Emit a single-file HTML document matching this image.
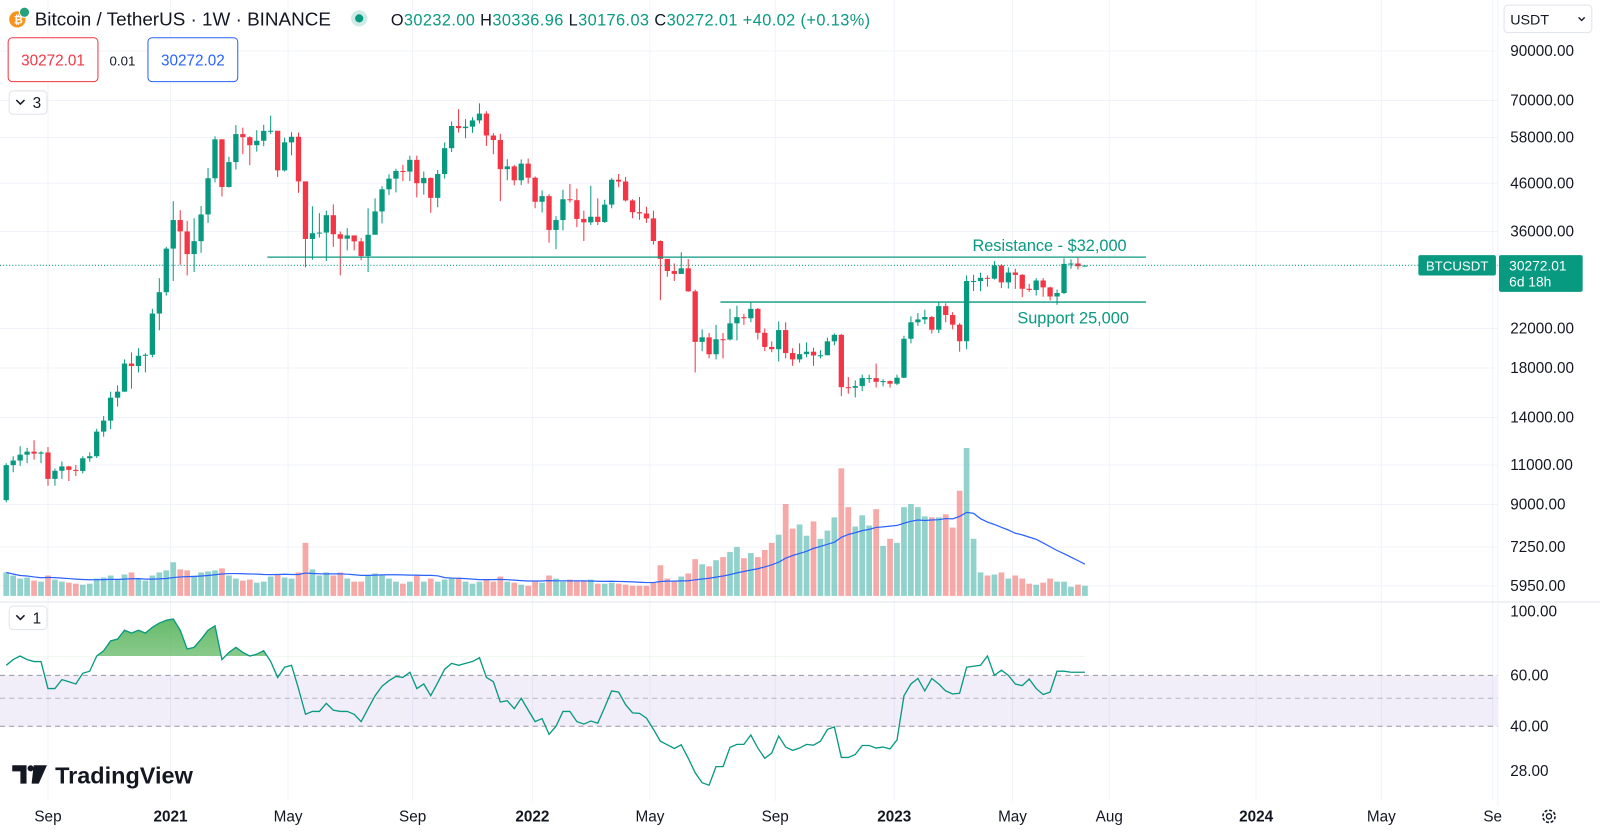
<!DOCTYPE html>
<html><head><meta charset="utf-8">
<style>
body{margin:0;width:1600px;height:832px;overflow:hidden;background:#fff;font-family:"Liberation Sans",sans-serif;}
svg text{font-family:"Liberation Sans",sans-serif;}
</style></head>
<body>
<svg id="chart" width="1600" height="832" viewBox="0 0 1568 815.36" xmlns="http://www.w3.org/2000/svg">
<defs>
<linearGradient id="obFill" x1="0" y1="0" x2="0" y2="1">
<stop offset="0" stop-color="#4caf50" stop-opacity="0.85"/>
<stop offset="1" stop-color="#4caf50" stop-opacity="0"/>
</linearGradient>
<clipPath id="obClip"><rect x="0" y="0" width="1468" height="643"/></clipPath>
<clipPath id="plotClip"><rect x="0" y="0" width="1468" height="832"/></clipPath>
</defs>
<g id="grid"></g>
<rect x="0" y="662" width="1468" height="50" fill="#7e57c2" fill-opacity="0.1"/>
<g id="rsiLevels"></g>
<g id="volume" clip-path="url(#plotClip)"></g>
<path id="volMA" fill="none" stroke="#2962ff" stroke-width="1.2"/>
<g id="candles"></g>
<line x1="262" y1="252" x2="1123" y2="252" stroke="#089981" stroke-width="1.3"/>
<text x="953" y="246" font-size="16" fill="#089981">Resistance - $32,000</text>
<line x1="706" y1="296" x2="1123" y2="296" stroke="#089981" stroke-width="1.3"/>
<text x="997" y="317" font-size="16" fill="#089981">Support 25,000</text>
<line x1="0" y1="260" x2="1468" y2="260" stroke="#089981" stroke-width="1" stroke-dasharray="1 2"/>
<path id="rsiFill" fill="url(#obFill)" clip-path="url(#obClip)"/>
<path id="rsiLine" fill="none" stroke="#089981" stroke-width="1.3"/>
<line x1="0" y1="590" x2="1600" y2="590" stroke="#e0e3eb"/>
<line x1="1468" y1="0" x2="1468" y2="790" stroke="#f0f3fa"/>
<g id="priceAxis"></g>
<g id="rsiAxis"></g>
<g id="timeAxis"></g>
<g>
<circle cx="17" cy="19" r="8" fill="#f7931a"/>
<text x="13.5" y="23" font-size="11" fill="#fff" font-weight="bold">₿</text>
<circle cx="24" cy="12" r="5" fill="#26a17b" stroke="#fff"/>
<text x="34" y="25" font-size="18.5" fill="#131722">Bitcoin / TetherUS · 1W · BINANCE</text>
<circle cx="352" cy="18" r="8" fill="#089981" fill-opacity="0.2"/>
<circle cx="352" cy="18" r="4" fill="#089981"/>
<text x="383" y="25" font-size="16" letter-spacing="0.4" fill="#089981"><tspan fill="#131722">O</tspan>30232.00 <tspan fill="#131722">H</tspan>30336.96 <tspan fill="#131722">L</tspan>30176.03 <tspan fill="#131722">C</tspan>30272.01 +40.02 (+0.13%)</text>
</g>
<g>
<rect x="8" y="37" width="88" height="43" rx="4" fill="#fff" stroke="#f23645"/>
<text x="52" y="64" font-size="15" fill="#f23645" text-anchor="middle">30272.01</text>
</g>
<text x="120" y="64" font-size="13" fill="#131722" text-anchor="middle">0.01</text>
<g>
<rect x="145" y="37" width="88" height="43" rx="4" fill="#fff" stroke="#2962ff"/>
<text x="189" y="64" font-size="15" fill="#2962ff" text-anchor="middle">30272.02</text>
</g>
<g>
<rect x="9" y="89" width="37" height="23" rx="4" fill="#fff" stroke="#e0e3eb"/>
<path d="M16 98 l4 4 l4 -4" fill="none" stroke="#131722" stroke-width="1.5"/>
<text x="32" y="106" font-size="15" fill="#131722">3</text>
</g>
<g>
<rect x="9" y="594" width="37" height="23" rx="4" fill="#fff" stroke="#e0e3eb"/>
<path d="M16 603 l4 4 l4 -4" fill="none" stroke="#131722" stroke-width="1.5"/>
<text x="32" y="611" font-size="15" fill="#131722">1</text>
</g>
<g>
<path d="M12 750 h14 v18 h-6 v-12 h-8 z M33 750 h13 l-8 18 h-7 z" fill="#131722"/>
<circle cx="30" cy="753" r="3" fill="#131722"/>
<text x="54" y="768" font-size="23" font-weight="bold" fill="#131722">TradingView</text>
</g>
<g>
<rect x="1474" y="5" width="86" height="27" rx="4" fill="#fff" stroke="#e0e3eb"/>
<text x="1480" y="24" font-size="14" fill="#131722">USDT</text>
<path d="M1547 17 l3 3 l3 -3" fill="none" stroke="#131722" stroke-width="1.3"/>
</g>
<g>
<rect x="1390" y="250" width="76" height="20" rx="2" fill="#089981"/>
<text x="1428" y="265" font-size="13" fill="#fff" text-anchor="middle">BTCUSDT</text>
<rect x="1469" y="250" width="82" height="36" rx="2" fill="#089981"/>
<text x="1479" y="265" font-size="13.5" fill="#fff">30272.01</text>
<text x="1479" y="281" font-size="13.5" fill="#fff">6d 18h</text>
</g>
<g>
<circle cx="1518" cy="800" r="6" fill="none" stroke="#131722" stroke-width="1.5" stroke-dasharray="3 1.7"/>
<circle cx="1518" cy="800" r="2.5" fill="none" stroke="#131722" stroke-width="1.3"/>
</g>
</svg>
<script>
const closes=[10990,11250,11590,11770,11650,11720,10250,10680,10920,10730,10670,11380,11500,13030,13780,15480,15960,18410,18180,19150,19250,23730,26450,33000,38150,36010,32100,34270,39250,47170,57480,45130,51200,59020,58100,55790,57060,60000,60040,49100,56600,58230,46430,34660,35680,35800,39100,35500,34700,35290,34240,31780,35400,39860,44600,47080,48950,48790,51790,46000,47250,42700,48200,54950,61500,60850,61300,63270,65500,58600,57270,49400,50100,46680,50800,47300,41860,43080,36280,38150,42400,42200,38370,37700,38800,37780,41260,46820,46400,42150,39700,39450,38470,34300,31330,29450,29020,29860,26570,20550,21030,19300,20830,20800,22580,23300,23170,24300,21520,20030,19800,21820,19420,18800,19310,19550,19180,19200,20610,21300,16330,16280,16420,17100,17100,16780,16840,16620,17130,20880,22700,23030,23320,21860,24640,23560,22430,20620,27990,27990,28450,28330,30300,27800,29230,28880,26910,26750,28070,27100,25880,26340,30530,30600,30170,30272];
const highs=[11100,11500,12100,12000,12470,11800,12050,10800,11200,10950,11000,11500,11730,13220,14100,15960,16480,18800,19480,19900,19400,24300,28400,33300,42000,40100,38000,38500,40950,49700,58350,57550,52640,61800,61000,58400,60200,61900,64850,57550,57960,59600,59500,45800,40900,39500,40000,41300,36000,36600,35100,34800,40500,42600,45300,48150,49500,50500,52900,52900,48800,47350,49200,56600,62950,67000,63700,64300,69000,66300,59300,59100,51950,50500,51900,52100,47600,44350,43500,38900,44500,45800,44750,40000,45400,42600,42300,47200,48200,47500,42400,42900,40800,40000,34400,31000,30600,32400,31300,26800,21900,21500,22400,21500,24300,24700,23700,25200,24400,22000,20600,22800,22700,19900,20400,20500,19950,19700,21000,21450,21400,17200,16900,17400,17400,18400,17000,16900,17400,21200,23400,23800,24200,23450,25250,25000,23900,22600,28800,28900,29200,28800,30970,30500,30000,29800,29000,27600,28400,28400,27200,26800,31400,31250,31500,30337];
const lows=[9100,10600,10950,11100,11300,11100,9900,9900,10250,10140,10400,10540,11180,11400,12700,13200,14800,15950,16200,17600,17600,19000,21800,26000,28000,30400,28800,29300,32300,37600,46200,43000,45000,49300,53300,50400,54000,55500,59000,47500,48800,53000,43800,30000,31200,34900,31000,33300,28800,32700,32700,31100,29300,36400,37500,43300,43900,46500,46500,42800,43400,39600,40700,47100,53900,59500,57800,59400,62300,55600,53300,42000,46700,45500,45550,45900,40500,39650,34000,32900,36200,41700,36800,34300,37200,37200,37600,40500,45100,41900,38500,38200,37600,33700,25400,28600,28000,29200,26500,17600,19600,18900,18800,18900,20700,20700,22400,22700,20800,19600,19500,18600,18900,18200,18500,19000,18200,18900,19200,20200,15600,15800,15500,16000,16700,16300,16400,16300,16500,17100,20400,22300,22500,21450,21500,22700,21900,19550,19800,26600,26600,27200,28200,27000,26950,26900,25800,26500,26000,25850,25350,24800,26200,29800,29700,30176];
const volumes=[230,200,170,180,150,140,200,160,140,130,120,110,120,170,180,200,160,210,230,170,150,200,230,250,330,260,250,200,230,240,250,270,200,170,150,160,130,140,190,210,180,170,230,520,260,200,230,200,230,170,140,140,200,220,210,170,140,120,140,200,140,170,140,160,170,170,140,120,140,160,140,190,140,130,110,100,140,130,200,170,140,160,140,150,160,120,120,130,120,110,100,100,100,130,300,170,140,190,220,360,310,290,350,380,430,480,370,420,380,450,520,600,900,660,700,590,730,560,640,770,1250,870,680,790,690,850,490,560,520,870,900,870,780,770,770,800,670,1030,1450,560,230,200,210,230,170,200,170,120,110,130,170,140,140,90,110,100];
const rsiValues=[65,68,70,68,67,67,54,54,58,57,56,61,62,70,73,79,80,86,84,86,84,88,91,93,94,86,74,75,80,86,89,68,72,75,72,70,71,73,67,59,64,65,54,44,45,45,48,45.5,45,45,44,41.5,46,51,55,57.5,59.5,59,61.5,54,56,51,56.5,63,66,65,66,67,69,59,57,48.5,49,46,50,45.5,41.5,42.5,37.5,40,45,45,41.5,40.7,41.7,41,46.5,53,52.5,47.5,44.5,44.3,42.7,39,35.5,34.5,33.5,34.5,31,27.6,25.5,25,29,29,33.8,34.6,34.6,37.3,33.6,31,32.3,37,33.9,33,33.6,34.6,34.4,35.5,39,39.8,31.2,31.2,31.9,34.3,34.3,33.6,33.9,33.4,35.9,51,56,58.5,53,58.5,56,53,51.7,52,64,64.5,65,70,60,62.5,60,56,55.3,58.3,54,51.5,52.5,62,62,61.5,61.5,61.5];
const priceTicks=[90000,70000,58000,46000,36000,22000,18000,14000,11000,9000,7250,5950];
const rsiTicks=[100,60,40,28];
const timeLabels=["Sep","2021","May","Sep","2022","May","Sep","2023","May","Aug","2024","May","Se"];
const timeLabelWeeks=[6,23.6,40.5,58.4,75.6,92.5,110.5,127.6,144.6,158.5,179.6,197.6,213.6];
const firstOpen=9200;

const NS="http://www.w3.org/2000/svg";
const X0=6.1, BARW=6.82;
function xAt(i){return X0+i*BARW;}
function yPrice(p){return 50+(Math.log(90000)-Math.log(p))*193;}
function yRsi(r){return 599+(Math.log(100)-Math.log(r))*123;}
const VOL_BASE=584, VOL_SCALE=0.1;
function yVol(v){return VOL_BASE-v*VOL_SCALE;}
function mk(tag,attrs,parent){const e=document.createElementNS(NS,tag);for(const k in attrs)e.setAttribute(k,attrs[k]);parent.appendChild(e);return e;}

const grid=document.getElementById('grid');
priceTicks.forEach(t=>{const l=mk('line',{x1:0,x2:1468,y1:yPrice(t),y2:yPrice(t),stroke:'#f0f3fa'},grid);

});
timeLabelWeeks.forEach(w=>{const l=mk('line',{x1:xAt(w),x2:xAt(w),y1:0,y2:785,stroke:'#f0f3fa'},grid);

});

const rl=document.getElementById('rsiLevels');
[60,50,40].forEach(v=>{const l=mk('line',{x1:0,x2:1468,y1:yRsi(v),y2:yRsi(v),stroke:v===50?'#b2b5be':'#9598a1','stroke-dasharray':'5 4'},rl);

});

const vg=document.getElementById('volume');
volumes.forEach((v,i)=>{const o=i?closes[i-1]:firstOpen;const up=closes[i]>=o;
const r=mk('rect',{x:xAt(i)-2.8,y:yVol(v),width:5.6,height:v*VOL_SCALE,fill:up?'#26a69a':'#ef5350','fill-opacity':0.5},vg);

});
let ma=[];for(let i=0;i<volumes.length;i++){const s=Math.max(0,i-19);let sum=0;for(let j=s;j<=i;j++)sum+=volumes[j];ma.push(sum/(i-s+1));}
document.getElementById('volMA').setAttribute('d',ma.map((m,i)=>(i?'L':'M')+xAt(i).toFixed(1)+' '+yVol(m).toFixed(1)).join(' '));

const cg=document.getElementById('candles');
closes.forEach((c,i)=>{const o=i?closes[i-1]:firstOpen;const up=c>=o;const col=up?'#089981':'#f23645';
const x=xAt(i);
const w=mk('line',{x1:x,x2:x,y1:yPrice(highs[i]),y2:yPrice(lows[i]),stroke:col,'stroke-width':1},cg);


const yt=yPrice(Math.max(o,c)),yb=yPrice(Math.min(o,c));
const b=mk('rect',{x:x-2.6,y:yt,width:5.2,height:Math.max(1,yb-yt),fill:col},cg);

});

const pts=rsiValues.map((r,i)=>[xAt(i),yRsi(r)]);
document.getElementById('rsiLine').setAttribute('d',pts.map((p,i)=>(i?'L':'M')+p[0].toFixed(1)+' '+p[1].toFixed(1)).join(' '));
const y70=yRsi(70);
document.getElementById('rsiFill').setAttribute('d','M'+pts[0][0]+' '+y70+' '+pts.map(p=>'L'+p[0].toFixed(1)+' '+p[1].toFixed(1)).join(' ')+' L'+pts[pts.length-1][0]+' '+y70+' Z');

const pa=document.getElementById('priceAxis');
priceTicks.forEach(t=>{const e=mk('text',{x:1480,y:yPrice(t)+5,'font-size':15,fill:'#131722'},pa);e.textContent=t.toFixed(2);

});
const ra=document.getElementById('rsiAxis');
rsiTicks.forEach(t=>{const e=mk('text',{x:1480,y:yRsi(t)+5,'font-size':15,fill:'#131722'},ra);e.textContent=t.toFixed(2);

});
const ta=document.getElementById('timeAxis');
timeLabels.forEach((t,i)=>{const bold=/^\d{4}$/.test(t);const e=mk('text',{x:xAt(timeLabelWeeks[i]),y:805,'font-size':15,fill:'#131722','text-anchor':'middle','font-weight':bold?'bold':'normal'},ta);e.textContent=t;

});
</script>
</body></html>
